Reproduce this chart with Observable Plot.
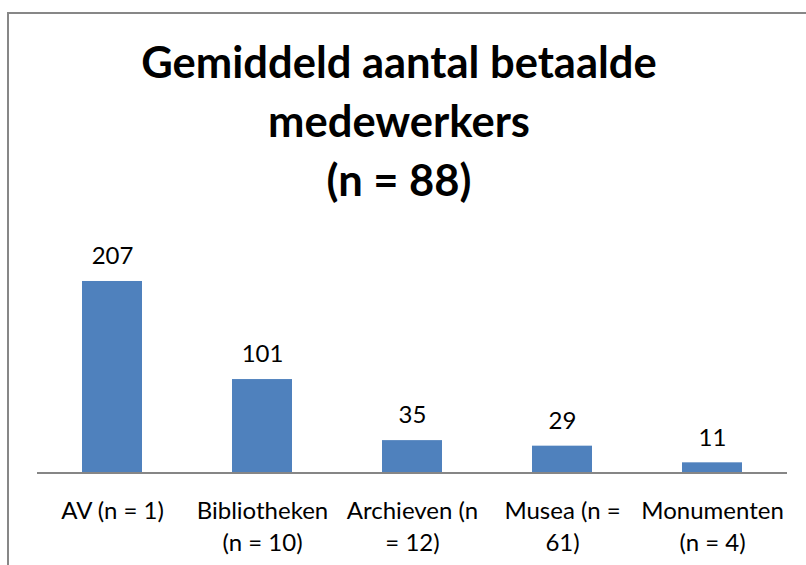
<!DOCTYPE html>
<html>
<head>
<meta charset="utf-8">
<script src="https://cdn.jsdelivr.net/npm/d3@7"></script>
<script src="https://cdn.jsdelivr.net/npm/@observablehq/plot@0.6"></script>
<style>
  html, body { margin: 0; padding: 0; background: #fff; }
  body { width: 806px; height: 565px; position: relative; overflow: hidden; font-family: Lato, "Open Sans", sans-serif; }
  #frame { position: absolute; left: 7px; top: 12px; width: 820px; height: 600px;
           border-left: 2px solid #878787; border-top: 2px solid #878787; box-sizing: border-box; }
  #title { position: absolute; left: 0; width: 798px; top: 32px; text-align: center;
           font-family: Lato, sans-serif; font-weight: bold; font-size: 43.5px; line-height: 59px; color: #000; }
  #chart { position: absolute; left: 0; top: 220px; }
</style>
</head>
<body>
<div id="frame"></div>
<div id="title">Gemiddeld aantal betaalde<br>medewerkers<br>(n = 88)</div>
<div id="chart"></div>
<script>
const categories = ["AV (n = 1)", "Bibliotheken (n = 10)", "Archieven (n = 12)", "Musea (n = 61)", "Monumenten (n = 4)"];
const tickLabels = ["AV (n = 1)", "Bibliotheken\n(n = 10)", "Archieven (n\n= 12)", "Musea (n =\n61)", "Monumenten\n(n = 4)"];
const values = [207, 101, 35, 29, 11];

const data = categories.map((c, i) => ({category: c, value: values[i]}));
const labelOf = new Map(categories.map((c, i) => [c, tickLabels[i]]));

const chart = Plot.plot({
  width: 806,
  height: 345,
  marginLeft: 37,
  marginRight: 19,
  marginTop: 21.2,
  marginBottom: 92.5,
  style: {fontFamily: "Lato, sans-serif", background: "transparent", overflow: "visible"},
  x: {domain: categories, paddingInner: 0.6, paddingOuter: 0.3, label: null},
  y: {domain: [0, 250], axis: null},
  marks: [
    Plot.barY(data, {x: "category", y: "value", fill: "#4F81BD"}),
    Plot.ruleY([0], {stroke: "#868686", strokeWidth: 2}),
    Plot.text(data, {x: "category", y: "value", text: d => String(d.value), dy: -25,
      fontSize: 24, fill: "#000", lineAnchor: "middle"}),
    Plot.axisX({tickSize: 0, tickPadding: 23, fontSize: 24, lineHeight: 1.33,
      tickFormat: d => labelOf.get(d), color: "#000", label: null})
  ]
});
document.getElementById("chart").appendChild(chart);
</script>
</body>
</html>
